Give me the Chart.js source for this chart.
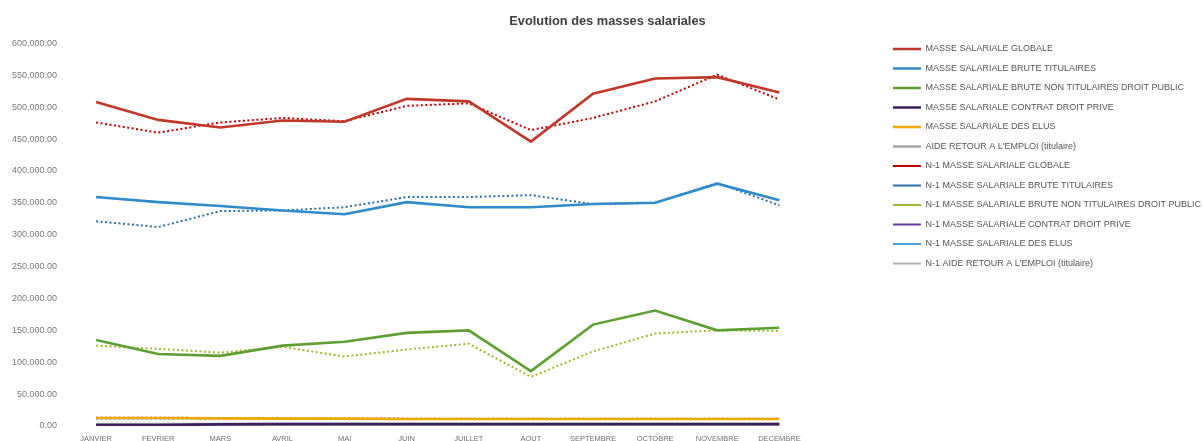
<!DOCTYPE html>
<html>
<head>
<meta charset="utf-8">
<script src="https://cdn.jsdelivr.net/npm/chart.js@4/dist/chart.umd.min.js"></script>
<style>
  html, body { margin: 0; padding: 0; background: #fff; }
  #wrap { width: 1203px; height: 441px; }
</style>
</head>
<body>
<div id="wrap"><canvas id="c" width="1203" height="441"></canvas></div>
<script>
const months = ['JANVIER','FEVRIER','MARS','AVRIL','MAI','JUIN','JUILLET','AOUT','SEPTEMBRE','OCTOBRE','NOVEMBRE','DECEMBRE'];

const globale      = [508000,480000,468000,479000,477000,513000,509000,446000,521000,545000,547000,523000];
const titulaires   = [359000,351000,345000,338000,332000,351000,343000,343000,348000,350000,380000,354000];
const nonTitulaires= [135000,113000,110000,126000,132000,146000,150000,86000,159000,181000,150000,154000];
const contratPrive = [1500,1500,2500,3000,3000,3000,3000,3000,3000,3000,3000,3000];
const elus         = [12500,12500,12000,11500,11500,11000,11000,11000,11000,11000,11000,11000];
const aideRetour   = [3000,3000,3000,3000,3000,3000,3000,3000,3000,3000,3000,3000];

const n1Globale      = [476000,460000,476000,483000,478000,502000,506000,464000,483000,509000,551000,512000];
const n1Titulaires   = [321000,312000,337000,338000,343000,359000,359000,362000,348000,350000,381000,346000];
const n1NonTitulaires= [126000,121000,115000,124000,109000,120000,129000,77000,117000,145000,150000,149000];
const n1ContratPrive = [13000,13000,12500,12000,12000,11500,11500,11500,11500,11500,11500,11500];
const n1Elus         = [11500,11500,11000,11000,11000,11000,11000,11000,11000,11000,11000,11000];
const n1AideRetour   = [2000,2000,2000,2000,2000,2000,2000,2000,2000,2000,2000,2000];

const yTicks = [0,50000,100000,150000,200000,250000,300000,350000,400000,450000,500000,550000,600000];

const DOT = [2, 2.5];
function solid(label, data, color) {
  return { label, data, borderColor: color, backgroundColor: color, borderWidth: 2.6, pointRadius: 0, tension: 0, fill: false };
}
function dotted(label, data, color) {
  return { label, data, borderColor: color, backgroundColor: color, borderWidth: 2, borderDash: DOT, borderCapStyle: 'butt', pointRadius: 0, tension: 0, fill: false };
}

const datasets = [
  solid('MASSE SALARIALE GLOBALE', globale, '#c0372a'),
  solid('MASSE SALARIALE BRUTE TITULAIRES', titulaires, '#2f8bca'),
  solid('MASSE SALARIALE BRUTE NON TITULAIRES DROIT PUBLIC', nonTitulaires, '#5e9f33'),
  solid('MASSE SALARIALE CONTRAT DROIT PRIVE', contratPrive, '#3b1e5e'),
  solid('MASSE SALARIALE DES ELUS', elus, '#f2a900'),
  solid('AIDE RETOUR A L\'EMPLOI (titulaire)', aideRetour, '#a6a6a6'),
  dotted('N-1 MASSE SALARIALE GLOBALE', n1Globale, '#c00000'),
  dotted('N-1 MASSE SALARIALE BRUTE TITULAIRES', n1Titulaires, '#2e6fa7'),
  dotted('N-1 MASSE SALARIALE BRUTE NON TITULAIRES DROIT PUBLIC', n1NonTitulaires, '#a3b52f'),
  dotted('N-1 MASSE SALARIALE CONTRAT DROIT PRIVE', n1ContratPrive, '#6a3fa0'),
  dotted('N-1 MASSE SALARIALE DES ELUS', n1Elus, '#47a3dc'),
  dotted('N-1 AIDE RETOUR A L\'EMPLOI (titulaire)', n1AideRetour, '#b0b0b0')
];

const FONT = "'Liberation Sans', Arial, sans-serif";

new Chart(document.getElementById('c'), {
  type: 'line',
  data: { labels: months, datasets },
  options: {
    responsive: false,
    animation: false,
    devicePixelRatio: 1,
    layout: { padding: { left: 4, right: -8, top: 0, bottom: -11 } },
    plugins: {
      title: {
        display: true,
        text: 'Evolution des masses salariales',
        color: '#404040',
        font: { family: FONT, size: 12.8, weight: 'bold' },
        padding: { top: 14, bottom: 14 }
      },
      legend: {
        position: 'right',
        align: 'start',
        maxWidth: 330,
        title: { display: true, text: ' ', font: { size: 10 }, padding: 11 },
        labels: {
          usePointStyle: true,
          pointStyle: 'line',
          pointStyleWidth: 28,
          boxHeight: 9,
          padding: 10.5,
          color: '#555555',
          font: { family: FONT, size: 9 }
        }
      },
      tooltip: { enabled: false }
    },
    scales: {
      x: {
        offset: true,
        grid: { display: false, drawTicks: false },
        border: { display: false },
        ticks: { color: '#707070', padding: 8.5, maxRotation: 0, autoSkip: false, font: { family: FONT, size: 7.5 } }
      },
      y: {
        min: 0, max: 600000,
        afterBuildTicks: (s) => { s.ticks = yTicks.map(v => ({ value: v })); },
        grid: { display: false, drawTicks: false },
        border: { display: false },
        ticks: {
          color: '#777777', padding: 8,
          font: { family: FONT, size: 9 },
          callback: (v) => Number(v).toLocaleString('en-US', { minimumFractionDigits: 2, maximumFractionDigits: 2 })
        }
      },
      gap: {
        type: 'linear', position: 'right', display: true,
        grid: { display: false, drawTicks: false }, border: { display: false },
        ticks: { display: false },
        afterFit: (s) => { s.width = 72; }
      }
    }
  }
});
</script>
</body>
</html>
